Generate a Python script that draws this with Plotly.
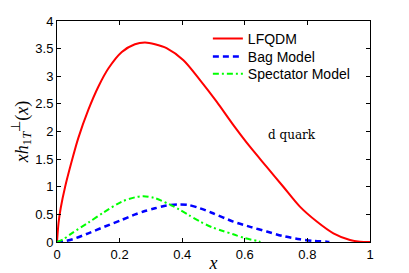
import plotly.graph_objects as go

# LFQDM (red solid)
lf_x = [0, 0.005, 0.012, 0.026, 0.045, 0.068, 0.1, 0.132, 0.164, 0.207, 0.249, 0.281, 0.313,
        0.35, 0.404, 0.457, 0.51, 0.563, 0.617, 0.67, 0.723, 0.776, 0.83, 0.883, 0.936, 0.968, 1.0]
lf_y = [0, 0.35, 0.62, 1.0, 1.42, 1.88, 2.39, 2.81, 3.14, 3.44, 3.58, 3.61, 3.58,
        3.51, 3.29, 2.93, 2.54, 2.12, 1.72, 1.36, 1.00, 0.64, 0.37, 0.157, 0.036, 0.006, 0]

# Bag Model (blue dashed)
bag_x = [0, 0.02, 0.05, 0.1, 0.153, 0.207, 0.25, 0.281, 0.313, 0.35, 0.388, 0.42, 0.457,
         0.494, 0.563, 0.62, 0.67, 0.72, 0.776, 0.82, 0.862, 0.87]
bag_y = [0, 0.01, 0.05, 0.157, 0.28, 0.40, 0.50, 0.56, 0.61, 0.66, 0.68, 0.67, 0.61,
         0.53, 0.37, 0.27, 0.19, 0.11, 0.05, 0.02, 0.006, 0]

# Spectator Model (green dash-dot)
spec_x = [0, 0.02, 0.047, 0.1, 0.15, 0.207, 0.25, 0.276, 0.31, 0.356, 0.39, 0.42, 0.457,
          0.494, 0.53, 0.563, 0.6, 0.638, 0.65]
spec_y = [0, 0.05, 0.157, 0.35, 0.54, 0.73, 0.81, 0.83, 0.80, 0.69, 0.59, 0.49, 0.37,
          0.27, 0.20, 0.14, 0.07, 0.02, 0]

x_ticks = [0, 0.2, 0.4, 0.6, 0.8, 1]
x_tick_labels = ["0", "0.2", "0.4", "0.6", "0.8", "1"]
y_ticks = [0, 0.5, 1, 1.5, 2, 2.5, 3, 3.5, 4]
y_tick_labels = ["0", "0.5", "1", "1.5", "2", "2.5", "3", "3.5", "4"]

fig = go.Figure()
fig.add_trace(go.Scatter(x=lf_x, y=lf_y, mode="lines", name="LFQDM", legend="legend",
                         line=dict(color="#ff0000", width=2, shape="spline", smoothing=0.8)))
fig.add_trace(go.Scatter(x=bag_x, y=bag_y, mode="lines", name="Bag Model", legend="legend2",
                         line=dict(color="#0000ff", width=2.5, dash="6px,4px", shape="spline", smoothing=0.8)))
fig.add_trace(go.Scatter(x=spec_x, y=spec_y, mode="lines", name="Spectator Model", legend="legend3",
                         line=dict(color="#00ff00", width=2, dash="6px,3px,2px,3px", shape="spline", smoothing=0.8)))

axis_common = dict(showline=True, linecolor="black", linewidth=1, mirror="ticks",
                   ticks="inside", ticklen=4, tickcolor="black", showgrid=False, zeroline=False,
                   automargin=False,
                   tickfont=dict(family="Liberation Sans, Arial, sans-serif", size=13, color="black"))

fig.update_xaxes(range=[0, 1], tickvals=x_ticks, ticktext=x_tick_labels,
                 title=dict(text="<i>x</i>", font=dict(family="Liberation Serif, serif", size=18, color="black"),
                            standoff=0), **axis_common)
fig.update_yaxes(range=[0, 4], tickvals=y_ticks, ticktext=y_tick_labels,
                 title=dict(text="<i>xh</i><sub>1<i>T</i></sub><sup>⊥</sup>(<i>x</i>)",
                            font=dict(family="Liberation Serif, serif", size=18, color="black"),
                            standoff=2), **axis_common)

fig.add_annotation(x=0.75, y=1.94, text="d quark", showarrow=False,
                   font=dict(family="DejaVu Serif, serif", size=12, color="black"))

legend_common = dict(x=0.482, xanchor="left", yanchor="middle", bgcolor="rgba(0,0,0,0)",
                     font=dict(family="Liberation Sans, Arial, sans-serif", size=14, color="black"),
                     itemwidth=30)

# The page body has an 8px default margin, so the figure is 8px smaller and margins shifted.
fig.update_layout(
    width=401, height=265,
    margin=dict(l=49, r=39, t=13, b=31),
    paper_bgcolor="white", plot_bgcolor="white",
    showlegend=True,
    legend=dict(y=0.919, **legend_common),
    legend2=dict(y=0.837, **legend_common),
    legend3=dict(y=0.760, **legend_common),
)

fig.write_html("out.html")
